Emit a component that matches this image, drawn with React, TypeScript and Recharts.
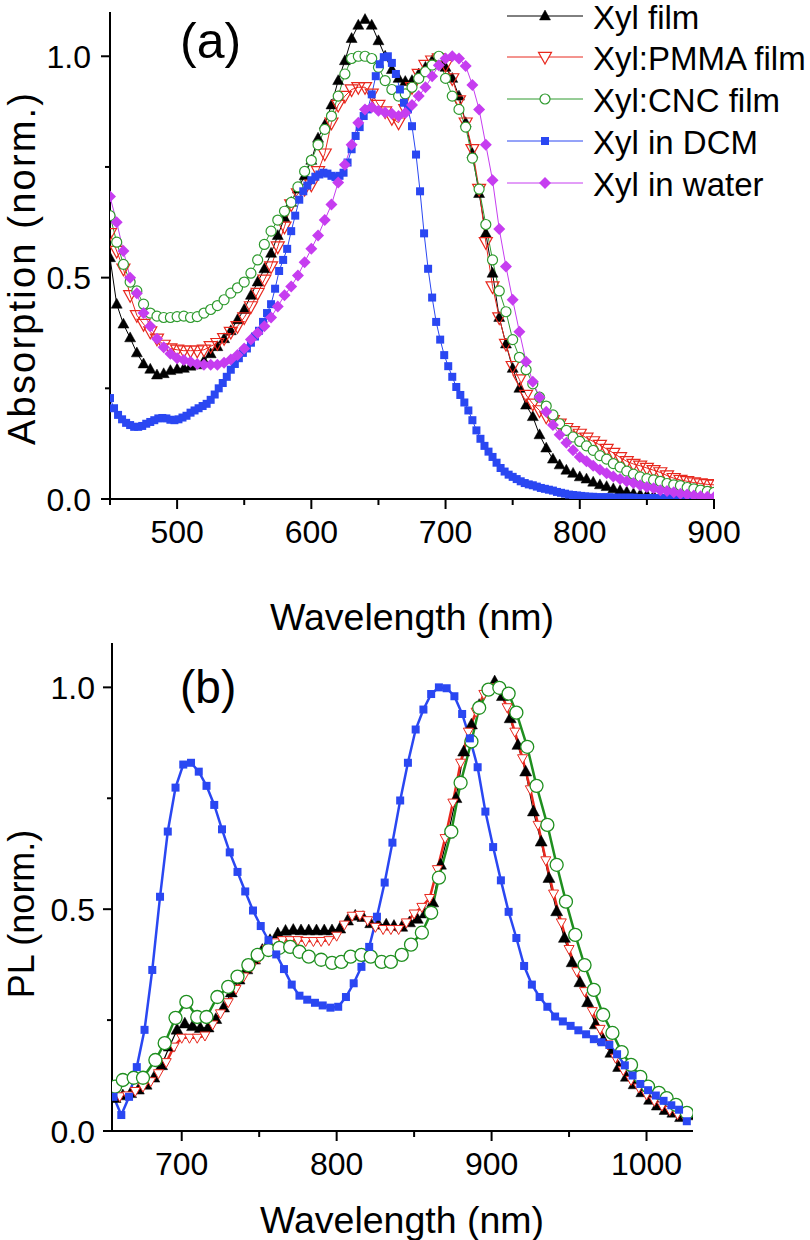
import React from 'react';
import { LineChart, Line, XAxis, YAxis, Legend, Label } from 'recharts';

const FONT = "'Liberation Sans', Arial, Helvetica, sans-serif";

const range = (start: number, step: number, n: number): number[] =>
  Array.from({ length: n }, (_, i) => Math.round((start + i * step) * 100) / 100);

// ---------- Panel (a): absorption ----------
const A_WL_5NM = range(450, 5, 91);
const A_WL_3NM = range(450, 3, 151);

const A_FILM = [
  0.545, 0.44, 0.395, 0.364, 0.33, 0.305, 0.293, 0.28, 0.283, 0.29,
  0.293, 0.295, 0.3, 0.303, 0.312, 0.328, 0.344, 0.362, 0.38, 0.405,
  0.428, 0.46, 0.49, 0.52, 0.555, 0.595, 0.635, 0.67, 0.7, 0.73,
  0.765, 0.815, 0.845, 0.89, 0.945, 0.99, 1.04, 1.07, 1.083, 1.07,
  1.035, 1.0, 0.97, 0.95, 0.943, 0.945, 0.96, 0.975, 0.99, 0.99,
  0.975, 0.95, 0.91, 0.85, 0.78, 0.69, 0.6, 0.51, 0.41, 0.35,
  0.295, 0.25, 0.212, 0.186, 0.145, 0.115, 0.09, 0.077, 0.065, 0.058,
  0.05, 0.045, 0.038, 0.032, 0.028, 0.023, 0.019, 0.016, 0.012, 0.01,
  0.009, 0.007, 0.005, 0.004, 0.003, 0.003, 0.002, 0.002, 0.002, 0.001, 0.001,
];

const A_PMMA = [
  0.6, 0.56, 0.52, 0.46, 0.415, 0.395, 0.378, 0.362, 0.348, 0.34,
  0.337, 0.335, 0.335, 0.335, 0.337, 0.345, 0.352, 0.363, 0.377, 0.39,
  0.41, 0.435, 0.465, 0.495, 0.525, 0.57, 0.615, 0.665, 0.69, 0.7,
  0.71, 0.74, 0.78, 0.85, 0.89, 0.91, 0.925, 0.93, 0.93, 0.915,
  0.89, 0.875, 0.86, 0.85, 0.88, 0.93, 0.96, 0.98, 0.99, 0.995,
  0.98, 0.95, 0.9, 0.85, 0.79, 0.7, 0.58, 0.48, 0.41, 0.35,
  0.3, 0.27, 0.235, 0.215, 0.2, 0.186, 0.178, 0.17, 0.16, 0.153,
  0.147, 0.138, 0.13, 0.122, 0.113, 0.104, 0.094, 0.085, 0.079, 0.075,
  0.07, 0.065, 0.06, 0.053, 0.047, 0.043, 0.04, 0.037, 0.035, 0.033, 0.032,
];

const A_CNC = [
  0.64, 0.58, 0.53, 0.49, 0.47, 0.44, 0.42, 0.413, 0.41, 0.41,
  0.412, 0.413, 0.41, 0.412, 0.42, 0.428, 0.437, 0.45, 0.465, 0.477,
  0.49, 0.51, 0.54, 0.575, 0.605, 0.63, 0.65, 0.67, 0.705, 0.74,
  0.765, 0.8, 0.835, 0.865, 0.91, 0.96, 0.995, 1.0, 1.0, 0.995,
  0.975, 0.945, 0.925, 0.91, 0.915, 0.93, 0.95, 0.965, 0.98, 1.0,
  0.95, 0.91, 0.88, 0.84, 0.77, 0.7, 0.62, 0.54, 0.47, 0.423,
  0.36, 0.32, 0.292, 0.26, 0.23, 0.21, 0.19, 0.17, 0.155, 0.14,
  0.13, 0.12, 0.11, 0.098, 0.09, 0.08, 0.072, 0.063, 0.056, 0.05,
  0.046, 0.043, 0.04, 0.035, 0.032, 0.03, 0.026, 0.023, 0.02, 0.017, 0.015,
];

const A_DCM = [
  0.228, 0.205, 0.19, 0.18, 0.172, 0.167, 0.163, 0.163, 0.165, 0.17,
  0.174, 0.178, 0.182, 0.183, 0.182, 0.179, 0.178, 0.18, 0.184, 0.188,
  0.195, 0.2, 0.205, 0.21, 0.215, 0.224, 0.236, 0.25, 0.262, 0.276,
  0.292, 0.305, 0.318, 0.33, 0.34, 0.353, 0.367, 0.38, 0.4, 0.42,
  0.44, 0.475, 0.515, 0.54, 0.565, 0.605, 0.64, 0.676, 0.695, 0.708,
  0.72, 0.728, 0.733, 0.737, 0.735, 0.73, 0.727, 0.73, 0.737, 0.76,
  0.79, 0.82, 0.84, 0.865, 0.88, 0.914, 0.955, 0.982, 0.998, 1.0,
  0.985, 0.96, 0.925, 0.895, 0.88, 0.842, 0.778, 0.695, 0.6, 0.52,
  0.455, 0.4, 0.36, 0.325, 0.3, 0.276, 0.253, 0.235, 0.218, 0.2,
  0.178, 0.155, 0.136, 0.12, 0.107, 0.095, 0.082, 0.07, 0.062, 0.055,
  0.05, 0.045, 0.04, 0.036, 0.033, 0.031, 0.028, 0.025, 0.023, 0.021,
  0.019, 0.016, 0.014, 0.012, 0.01, 0.009, 0.008, 0.007, 0.006, 0.005,
  0.005, 0.004, 0.004, 0.004, 0.004, 0.003, 0.003, 0.003, 0.003, 0.003,
  0.003, 0.002, 0.002, 0.002, 0.002, 0.002, 0.002, 0.002, 0.002, 0.002,
  0.002, 0.002, 0.001, 0.001, 0.001, 0.001, 0.001, 0.001, 0.001, 0.001,
  0.001,
];

const A_WATER = [
  0.683, 0.625, 0.56, 0.5, 0.465, 0.42, 0.39, 0.362, 0.343, 0.328,
  0.318, 0.314, 0.31, 0.305, 0.303, 0.303, 0.303, 0.308, 0.315, 0.325,
  0.34, 0.36, 0.375, 0.39, 0.41, 0.435, 0.46, 0.48, 0.505, 0.535,
  0.565, 0.595, 0.63, 0.665, 0.715, 0.755, 0.8, 0.85, 0.88, 0.885,
  0.877, 0.873, 0.87, 0.865, 0.872, 0.89, 0.91, 0.93, 0.955, 0.98,
  0.995, 1.0, 0.995, 0.978, 0.935, 0.88, 0.8, 0.72, 0.61, 0.525,
  0.45, 0.378, 0.31, 0.265, 0.23, 0.197, 0.167, 0.145, 0.127, 0.11,
  0.095, 0.085, 0.075, 0.066, 0.058, 0.051, 0.045, 0.04, 0.036, 0.031,
  0.027, 0.024, 0.02, 0.018, 0.015, 0.012, 0.01, 0.008, 0.006, 0.005, 0.004,
];

// ---------- Panel (b): photoluminescence ----------
const B_WL_FILM = range(657, 5, 75);
const B_WL_PMMA = range(660, 5, 74);
const B_WL_DCM = range(656, 5, 75);
const B_WL_CNC = [
  657, 662, 669, 675, 683, 689, 696, 703, 710, 716,
  723, 730, 736, 743, 749, 756, 763, 770, 776, 782,
  790, 797, 803, 809, 816, 822, 829, 835, 842, 848,
  855, 861, 866, 874, 880, 887, 892, 898, 905, 911,
  916, 923, 929, 936, 942, 948, 954, 960, 966, 972,
  978, 984, 990, 996, 1001, 1008, 1013, 1019, 1026,
];

const B_FILM = [
  0.074, 0.08, 0.085, 0.093, 0.104, 0.12, 0.148, 0.19, 0.228, 0.242,
  0.236, 0.232, 0.233, 0.252, 0.278, 0.312, 0.341, 0.364, 0.386, 0.408,
  0.43, 0.445, 0.451, 0.453, 0.452, 0.452, 0.452, 0.452, 0.452, 0.456,
  0.474, 0.485, 0.482, 0.468, 0.465, 0.465, 0.462, 0.46, 0.47, 0.478,
  0.49, 0.515, 0.6, 0.67, 0.75, 0.855, 0.916, 0.96, 0.995, 1.013,
  0.98, 0.93, 0.87, 0.81, 0.72, 0.652, 0.57, 0.495, 0.435, 0.38,
  0.335, 0.29, 0.24, 0.205, 0.176, 0.144, 0.122, 0.105, 0.087, 0.07,
  0.057, 0.047, 0.041, 0.031, 0.035,
];

const B_PMMA = [
  0.078, 0.08, 0.09, 0.1, 0.112, 0.13, 0.155, 0.19, 0.21, 0.21,
  0.21, 0.215, 0.24, 0.265, 0.29, 0.32, 0.348, 0.37, 0.39, 0.41,
  0.425, 0.43, 0.43, 0.43, 0.428, 0.428, 0.428, 0.43, 0.44, 0.465,
  0.485, 0.487, 0.475, 0.46, 0.455, 0.455, 0.455, 0.47, 0.49, 0.505,
  0.525, 0.59, 0.66, 0.74, 0.83, 0.9, 0.945, 0.985, 1.0, 0.995,
  0.955, 0.9, 0.84, 0.77, 0.69, 0.61, 0.535, 0.47, 0.41, 0.36,
  0.315, 0.27, 0.23, 0.195, 0.165, 0.137, 0.115, 0.098, 0.082, 0.068,
  0.057, 0.047, 0.038, 0.03,
];

const B_CNC = [
  0.1, 0.115, 0.12, 0.12, 0.16, 0.198, 0.255, 0.291, 0.257, 0.257,
  0.302, 0.325, 0.348, 0.374, 0.397, 0.408, 0.413, 0.415, 0.404, 0.393,
  0.386, 0.379, 0.381, 0.393, 0.397, 0.393, 0.381, 0.381, 0.397, 0.42,
  0.447, 0.492, 0.571, 0.675, 0.785, 0.878, 0.954, 0.995, 0.999, 0.986,
  0.943, 0.866, 0.778, 0.69, 0.6, 0.517, 0.442, 0.374, 0.318, 0.262,
  0.221, 0.178, 0.149, 0.122, 0.1, 0.086, 0.074, 0.059, 0.041,
];

const B_DCM = [
  0.077, 0.036, 0.077, 0.144, 0.228, 0.363, 0.528, 0.675, 0.774, 0.826,
  0.83, 0.81, 0.778, 0.735, 0.68, 0.628, 0.584, 0.54, 0.497, 0.462,
  0.43, 0.398, 0.365, 0.33, 0.305, 0.296, 0.289, 0.283, 0.278, 0.28,
  0.302, 0.333, 0.37, 0.415, 0.483, 0.56, 0.65, 0.745, 0.83, 0.905,
  0.95, 0.985, 1.0, 0.998, 0.98, 0.94, 0.885, 0.82, 0.72, 0.64,
  0.565, 0.494, 0.435, 0.372, 0.33, 0.302, 0.28, 0.258, 0.247, 0.237,
  0.227, 0.218, 0.207, 0.2, 0.194, 0.173, 0.148, 0.125, 0.106, 0.092,
  0.08, 0.068, 0.058, 0.048, 0.022,
];

// ---------- ticks / labels ----------
const A_X_TICKS = [450, 500, 550, 600, 650, 700, 750, 800, 850, 900];
const A_X_LABELS = [500, 600, 700, 800, 900];
const B_X_TICKS = [700, 750, 800, 850, 900, 950, 1000];
const B_X_LABELS = [700, 800, 900, 1000];
const Y_TICKS = [0, 0.25, 0.5, 0.75, 1.0];
const Y_LABELS = [0, 0.5, 1.0];
const NAMES = ['Xyl film', 'Xyl:PMMA film', 'Xyl:CNC film', 'Xyl in DCM', 'Xyl in water'];

const BLACK = '#000000';
const RED = '#e8281e';
const GREEN = '#2e9a2e';
const GREEN_B = '#1f8f1f';
const BLUE = '#2a47f2';
const MAGENTA = '#c63df0';

type Kind = 'triUp' | 'triDown' | 'circle' | 'square' | 'diamond';
interface MStyle { kind: Kind; size: number; fill: string; stroke: string; sw: number; }

const drawMarker = (m: MStyle, cx: number, cy: number, key?: string) => {
  const s = m.size;
  if (cx == null || cy == null || isNaN(cx) || isNaN(cy)) return <g key={key} />;
  switch (m.kind) {
    case 'triUp': {
      const h = s * 0.9;
      return (
        <polygon key={key}
          points={`${cx},${cy - h * 0.6} ${cx - s / 2},${cy + h * 0.4} ${cx + s / 2},${cy + h * 0.4}`}
          fill={m.fill} stroke={m.stroke} strokeWidth={m.sw} />
      );
    }
    case 'triDown': {
      const h = s * 0.9;
      return (
        <polygon key={key}
          points={`${cx - s / 2},${cy - h * 0.4} ${cx + s / 2},${cy - h * 0.4} ${cx},${cy + h * 0.6}`}
          fill={m.fill} stroke={m.stroke} strokeWidth={m.sw} />
      );
    }
    case 'circle':
      return <circle key={key} cx={cx} cy={cy} r={s / 2} fill={m.fill} stroke={m.stroke} strokeWidth={m.sw} />;
    case 'square':
      return <rect key={key} x={cx - s / 2} y={cy - s / 2} width={s} height={s} fill={m.fill} stroke={m.stroke} strokeWidth={m.sw} />;
    case 'diamond':
    default:
      return (
        <polygon key={key}
          points={`${cx},${cy - s / 2} ${cx + s / 2},${cy} ${cx},${cy + s / 2} ${cx - s / 2},${cy}`}
          fill={m.fill} stroke={m.stroke} strokeWidth={m.sw} />
      );
  }
};

const pts = (xs: number[], ys: number[]) => xs.map((x, i) => ({ x, y: ys[i] }));

interface Series { name: string; data: { x: number; y: number }[]; color: string; width: number; marker: MStyle; legendMarker?: MStyle; }

const A_SERIES: Series[] = [
  { name: NAMES[0], data: pts(A_WL_5NM, A_FILM), color: BLACK, width: 1,
    marker: { kind: 'triUp', size: 11, fill: BLACK, stroke: BLACK, sw: 0.5 } },
  { name: NAMES[1], data: pts(A_WL_5NM, A_PMMA), color: RED, width: 1,
    marker: { kind: 'triDown', size: 13, fill: 'none', stroke: RED, sw: 1.2 },
    legendMarker: { kind: 'triDown', size: 13, fill: '#fff', stroke: RED, sw: 1.2 } },
  { name: NAMES[2], data: pts(A_WL_5NM, A_CNC), color: GREEN, width: 1,
    marker: { kind: 'circle', size: 10, fill: '#fff', stroke: GREEN, sw: 1.2 } },
  { name: NAMES[3], data: pts(A_WL_3NM, A_DCM), color: BLUE, width: 1,
    marker: { kind: 'square', size: 8, fill: BLUE, stroke: BLUE, sw: 0 } },
  { name: NAMES[4], data: pts(A_WL_5NM, A_WATER), color: MAGENTA, width: 1,
    marker: { kind: 'diamond', size: 12, fill: MAGENTA, stroke: MAGENTA, sw: 0 } },
];

const B_SERIES: Series[] = [
  { name: NAMES[0], data: pts(B_WL_FILM, B_FILM), color: BLACK, width: 1.2,
    marker: { kind: 'triUp', size: 12, fill: BLACK, stroke: BLACK, sw: 0.5 } },
  { name: NAMES[1], data: pts(B_WL_PMMA, B_PMMA), color: RED, width: 2.5,
    marker: { kind: 'triDown', size: 10, fill: '#fff', stroke: RED, sw: 1 } },
  { name: NAMES[2], data: pts(B_WL_CNC, B_CNC), color: GREEN_B, width: 2.5,
    marker: { kind: 'circle', size: 13, fill: '#fff', stroke: GREEN_B, sw: 1.3 } },
  { name: NAMES[3], data: pts(B_WL_DCM, B_DCM), color: BLUE, width: 2.5,
    marker: { kind: 'square', size: 8, fill: BLUE, stroke: BLUE, sw: 0 } },
];

const makeXTick = (labels: number[]) => (props: any) => {
  const { x, y, payload } = props;
  const v = payload.value;
  const major = labels.includes(v);
  return (
    <g>
      <line x1={x} x2={x} y1={y} y2={y + (major ? 10 : 6)} stroke="#000" strokeWidth={2} />
      {major && (
        <text x={x} y={y + 44} textAnchor="middle" fontSize={32} fontFamily={FONT} fill="#000">{v}</text>
      )}
    </g>
  );
};

const makeYTick = (gap: number) => (props: any) => {
  const { x, y, payload } = props;
  const v = payload.value;
  const major = Y_LABELS.includes(v);
  return (
    <g>
      <line x1={x - (major ? 9 : 5)} x2={x} y1={y} y2={y} stroke="#000" strokeWidth={2} />
      {major && (
        <text x={x - gap} y={y + 11.5} textAnchor="end" fontSize={32} fontFamily={FONT} fill="#000">{v.toFixed(1)}</text>
      )}
    </g>
  );
};

const LegendBox = () => {
  const rows = [16, 57, 99, 141, 183];
  return (
    <svg width={310} height={205} style={{ display: 'block' }}>
      {A_SERIES.map((s, i) => (
        <g key={s.name}>
          <line x1={7} x2={83} y1={rows[i]} y2={rows[i]} stroke={s.color} strokeWidth={1} />
          {drawMarker(s.legendMarker || s.marker, 45, rows[i])}
          <text x={93} y={rows[i] + 13} fontSize={33} fontFamily={FONT} fill="#000">{s.name}</text>
        </g>
      ))}
    </svg>
  );
};

const renderLines = (series: Series[], prefix: string) =>
  series.map((s, si) => (
    <Line
      key={s.name}
      name={s.name}
      data={s.data}
      dataKey="y"
      type="linear"
      stroke={s.color}
      strokeWidth={s.width}
      isAnimationActive={false}
      activeDot={false}
      legendType="none"
      dot={(p: any) => drawMarker(s.marker, p.cx, p.cy, `${prefix}-${si}-${p.index}`)}
    />
  ));

const axisLine = { stroke: '#000', strokeWidth: 2 };

export default function App() {
  return (
    <div style={{ position: 'absolute', left: 0, top: 0, width: 810, height: 1240, background: '#fff' }}>
      <div style={{ position: 'absolute', left: 0, top: 0 }}>
        <LineChart width={810} height={650} margin={{ top: 12, right: 96, left: 50, bottom: 91 }}>
          <XAxis type="number" dataKey="x" domain={[450, 900]} ticks={A_X_TICKS} interval={0}
            tickSize={0} tickMargin={0} tickLine={false} tick={makeXTick(A_X_LABELS)}
            axisLine={axisLine} height={60} allowDataOverflow>
            <Label content={() => (
              <text x={412} y={630} textAnchor="middle" fontSize={37.5} fontFamily={FONT} fill="#000">Wavelength (nm)</text>
            )} />
          </XAxis>
          <YAxis type="number" domain={[0, 1.1]} ticks={Y_TICKS} interval={0}
            tickSize={0} tickMargin={0} tickLine={false} tick={makeYTick(19)}
            axisLine={axisLine} width={60} allowDataOverflow>
            <Label content={() => (
              <g>
                <text x={35} y={269} transform="rotate(-90 35 269)" textAnchor="middle" fontSize={38}
                  fontFamily={FONT} fill="#000" textLength={352} lengthAdjust="spacing">Absorption (norm.)</text>
                <text x={180} y={58} fontSize={50} fontFamily={FONT} fill="#000">(a)</text>
              </g>
            )} />
          </YAxis>
          {renderLines(A_SERIES, 'a')}
          <Legend content={() => <LegendBox />} layout="vertical" align="center" verticalAlign="middle"
            wrapperStyle={{ position: 'absolute', left: 500, top: 0, width: 310, height: 205, margin: 0, padding: 0 }} />
        </LineChart>
      </div>
      <div style={{ position: 'absolute', left: 0, top: 600 }}>
        <LineChart width={810} height={640} margin={{ top: 43, right: 117, left: 52, bottom: 49 }}>
          <XAxis type="number" dataKey="x" domain={[655, 1030]} ticks={B_X_TICKS} interval={0}
            tickSize={0} tickMargin={0} tickLine={false} tick={makeXTick(B_X_LABELS)}
            axisLine={axisLine} height={60} allowDataOverflow>
            <Label content={() => (
              <text x={402} y={633} textAnchor="middle" fontSize={37.5} fontFamily={FONT} fill="#000">Wavelength (nm)</text>
            )} />
          </XAxis>
          <YAxis type="number" domain={[0, 1.1]} ticks={Y_TICKS} interval={0}
            tickSize={0} tickMargin={0} tickLine={false} tick={makeYTick(17)}
            axisLine={axisLine} width={60} allowDataOverflow>
            <Label content={() => (
              <g>
                <text x={34} y={314} transform="rotate(-90 34 314)" textAnchor="middle" fontSize={36}
                  fontFamily={FONT} fill="#000">PL (norm.)</text>
                <text x={180} y={103} fontSize={46} fontFamily={FONT} fill="#000">(b)</text>
              </g>
            )} />
          </YAxis>
          {renderLines(B_SERIES, 'b')}
        </LineChart>
      </div>
    </div>
  );
}
